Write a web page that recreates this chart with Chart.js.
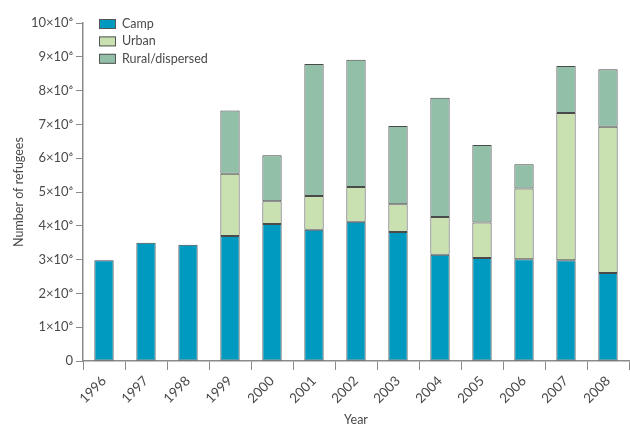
<!DOCTYPE html>
<html lang="en">
<head>
    <meta charset="UTF-8">
    <title>Refugees by settlement type</title>
    <script src="https://cdn.jsdelivr.net/npm/chart.js@4/dist/chart.umd.min.js"></script>
    <style>
        html, body { margin: 0; padding: 0; background: #fff; }
        .chart-container { width: 630px; height: 424px; }
    </style>
</head>
<body>
    <div class="chart-container">
        <canvas id="refugeeChart"></canvas>
    </div>
    <script>
        // values in millions of refugees
        var years = ['1996', '1997', '1998', '1999', '2000', '2001', '2002', '2003', '2004', '2005', '2006', '2007', '2008'];
        var camp  = [2.98, 3.5, 3.44, 3.7, 4.05, 3.88, 4.12, 3.82, 3.14, 3.05, 3.01, 2.98, 2.6];
        var urban = [0, 0, 0, 1.84, 0.68, 1.0, 1.03, 0.82, 1.12, 1.05, 2.09, 4.36, 4.33];
        var rural = [0, 0, 0, 1.87, 1.36, 3.91, 3.76, 2.31, 3.53, 2.29, 0.72, 1.39, 1.7];
        var yTickLabels = ['0', '1×10⁶', '2×10⁶', '3×10⁶', '4×10⁶', '5×10⁶', '6×10⁶', '7×10⁶', '8×10⁶', '9×10⁶', '10×10⁶'];

        var textColor = '#4a4a4a';
        var axisColor = '#8a8a8a';
        var fontFamily = "Lato, 'Open Sans', sans-serif";
        var fontSize = 12.5;

        function toUnits(arr) {
            return arr.map(function (v) { return v * 1e6; });
        }

        // legend drawn inside the plot, top left
        var insideLegend = {
            id: 'insideLegend',
            afterDraw: function (chart) {
                var ctx = chart.ctx;
                var area = chart.chartArea;
                var x = area.left + 16;
                var y = area.top + 1;
                ctx.save();
                ctx.font = fontSize + 'px ' + fontFamily;
                ctx.textBaseline = 'middle';
                chart.data.datasets.forEach(function (ds, i) {
                    var cy = y + i * 17.4;
                    ctx.fillStyle = ds.backgroundColor;
                    ctx.fillRect(x, cy - 5, 17, 10);
                    ctx.strokeStyle = '#555';
                    ctx.lineWidth = 1;
                    ctx.strokeRect(x + 0.5, cy - 4.5, 16, 9);
                    ctx.fillStyle = textColor;
                    ctx.fillText(ds.label, x + 23, cy);
                });
                ctx.restore();
            }
        };

        var chart = new Chart(document.getElementById('refugeeChart'), {
            type: 'bar',
            data: {
                labels: years,
                datasets: [
                    { label: 'Camp', data: toUnits(camp), backgroundColor: '#0099bf' },
                    { label: 'Urban', data: toUnits(urban), backgroundColor: '#c9e0b1' },
                    { label: 'Rural/dispersed', data: toUnits(rural), backgroundColor: '#92bfa8' }
                ]
            },
            options: {
                responsive: true,
                maintainAspectRatio: false,
                animation: false,
                layout: { padding: { top: 23, right: 1, left: 11, bottom: 0 } },
                datasets: {
                    bar: {
                        borderColor: '#4a4a4a',
                        borderWidth: 1,
                        borderSkipped: false,
                        barPercentage: 0.46,
                        categoryPercentage: 1.0
                    }
                },
                plugins: {
                    legend: { display: false },
                    tooltip: { enabled: false }
                },
                scales: {
                    x: {
                        stacked: true,
                        afterFit: function (s) { s.height = 63; },
                        grid: {
                            offset: true,
                            drawOnChartArea: false,
                            drawTicks: true,
                            tickLength: 9,
                            color: axisColor
                        },
                        border: { display: true, color: axisColor, width: 1.5 },
                        ticks: {
                            minRotation: 45,
                            maxRotation: 45,
                            color: textColor,
                            font: { family: fontFamily, size: 13.5 },
                            padding: 3
                        },
                        title: {
                            display: true,
                            text: 'Year',
                            color: textColor,
                            font: { family: fontFamily, size: fontSize },
                            padding: { top: 4, bottom: -3 }
                        }
                    },
                    y: {
                        stacked: true,
                        min: 0,
                        max: 10e6,
                        afterFit: function (s) { s.width = 72; },
                        grid: {
                            drawOnChartArea: false,
                            drawTicks: true,
                            tickLength: 7,
                            color: axisColor
                        },
                        border: { display: true, color: axisColor, width: 1.5 },
                        ticks: {
                            stepSize: 1e6,
                            color: textColor,
                            font: { family: fontFamily, size: 13 },
                            padding: 3,
                            callback: function (value, index) { return yTickLabels[index]; }
                        },
                        title: {
                            display: true,
                            text: 'Number of refugees',
                            color: textColor,
                            font: { family: fontFamily, size: fontSize },
                            padding: { top: 0, bottom: 4 }
                        }
                    }
                }
            },
            plugins: [insideLegend]
        });
    </script>
</body>
</html>
